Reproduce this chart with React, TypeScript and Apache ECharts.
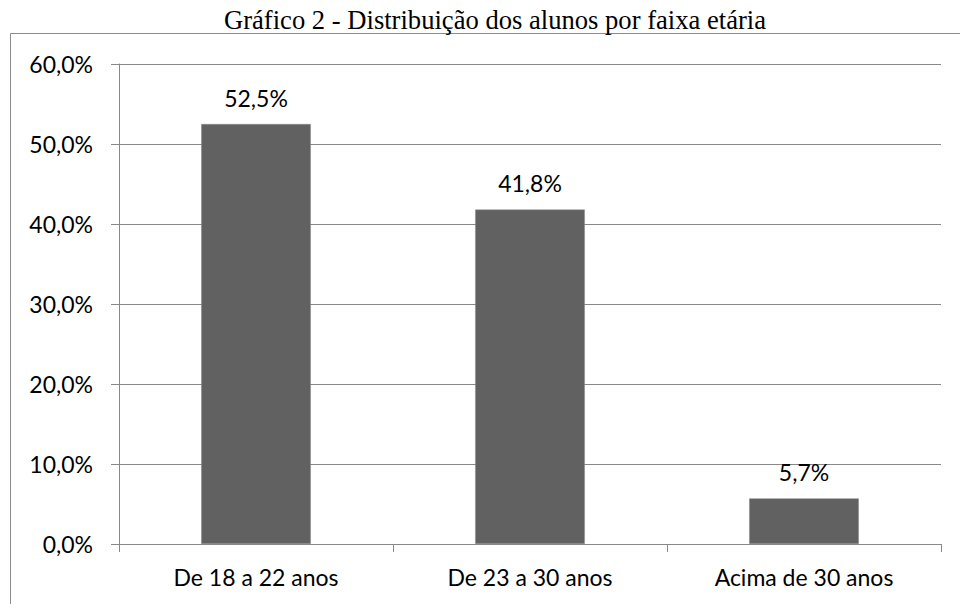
import React, { useEffect, useRef } from "react";
import * as echarts from "echarts";

const titleText = "Gráfico 2 - Distribuição dos alunos por faixa etária";
const categories = ["De 18 a 22 anos", "De 23 a 30 anos", "Acima de 30 anos"];
const values = [52.5, 41.8, 5.7];
const yMin = 0;
const yMax = 60;
const yInterval = 10;

const fmt = (v: number) => v.toFixed(1).replace(".", ",") + "%";

export default function App() {
  const ref = useRef<HTMLDivElement>(null);
  useEffect(() => {
    if (!ref.current) return;
    const chart = echarts.init(ref.current, null, { renderer: "svg" });
    const labelFont = "Lato, 'Open Sans', sans-serif";
    chart.setOption({
      animation: false,
      backgroundColor: "#ffffff",
      title: {
        text: titleText,
        left: 490,
        textAlign: "center",
        top: 1,
        textStyle: {
          fontFamily: "'Liberation Serif', 'Times New Roman', serif",
          fontWeight: "normal",
          fontSize: 26.6,
          color: "#000",
        },
      },
      graphic: [
        {
          type: "rect",
          shape: { x: 10.5, y: 33.5, width: 1000, height: 1000 },
          style: { fill: "none", stroke: "#8c8c8c", lineWidth: 1 },
          silent: true,
        },
      ],
      grid: { left: 119, right: 19, top: 64, bottom: 60 },
      xAxis: {
        type: "category",
        data: categories,
        axisLine: { show: true, lineStyle: { color: "#888", width: 1 } },
        axisTick: { show: true, length: 8, alignWithLabel: false, lineStyle: { color: "#888" } },
        axisLabel: { color: "#000", fontSize: 23, fontFamily: labelFont, margin: 21 },
      },
      yAxis: {
        type: "value",
        min: yMin,
        max: yMax,
        interval: yInterval,
        axisLine: { show: true, lineStyle: { color: "#888", width: 1 } },
        axisTick: { show: true, length: 8, lineStyle: { color: "#888" } },
        splitLine: { show: true, lineStyle: { color: "#888", width: 1 } },
        axisLabel: {
          color: "#000",
          fontSize: 23,
          fontFamily: labelFont,
          margin: 26,
          formatter: (v: number) => fmt(v),
        },
      },
      series: [
        {
          type: "bar",
          data: values,
          barWidth: "40%",
          itemStyle: { color: "#616161", borderColor: "#8a8a8a", borderWidth: 0.5 },
          label: {
            show: true,
            position: "top",
            distance: 15,
            color: "#000",
            fontSize: 23,
            fontFamily: labelFont,
            formatter: (p: any) => fmt(p.value),
          },
        },
      ],
    });
    return () => chart.dispose();
  }, []);
  return (
    <div
      ref={ref}
      style={{ position: "fixed", left: 0, top: 0, width: 960, height: 604 }}
    />
  );
}
